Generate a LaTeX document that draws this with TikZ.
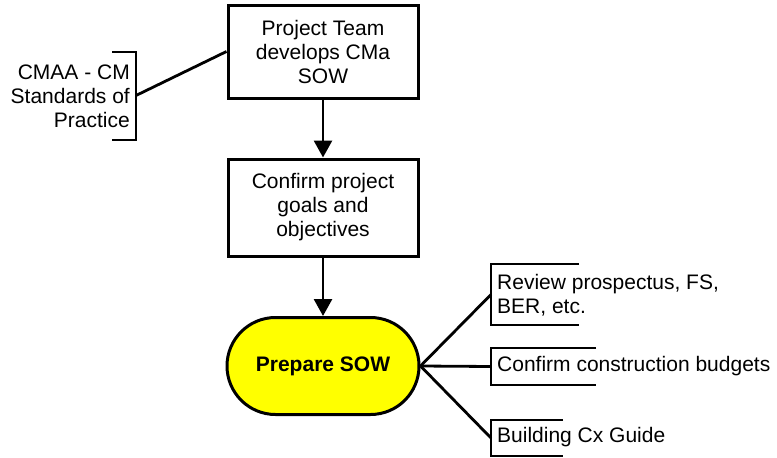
\documentclass[tikz,border=0pt]{standalone}
\usepackage{fontspec}
\setmainfont{Liberation Sans}
\usepackage{xcolor}
\usetikzlibrary{arrows.meta,shapes.misc}
\definecolor{sowyellow}{HTML}{FFFF00}

\begin{document}
\begin{tikzpicture}[x=1pt,y=-1pt,
    every node/.style={font=\fontsize{21}{24}\selectfont},
    procbox/.style={draw,line width=3pt,align=center,inner sep=0pt,
      minimum width=190,minimum height=93},
    termnode/.style={draw,line width=3pt,fill=sowyellow,rounded rectangle,
      inner sep=0pt,minimum width=192,minimum height=97,
      font=\fontsize{21}{24}\selectfont\bfseries},
    note/.style={inner sep=0pt},
    link/.style={line width=2.8pt},
    flow/.style={line width=2.8pt,-{Triangle[length=17pt,width=18pt]}}]
  \useasboundingbox (0,0) rectangle (777,458);

  % main column
  \node[procbox] (team) at (323,51.5) {Project Team\\develops CMa\\SOW};
  \node[procbox,minimum height=97] (goals) at (323,207.5) {Confirm project\\goals and\\objectives};
  \node[termnode] (sow) at (323,366) {Prepare SOW};
  \draw[flow] (team.south) -- (goals.north);
  \draw[flow] (goals.south) -- (sow.north);

  % left annotation
  \node[note,align=right,anchor=east] (cmaa) at (130,96) {CMAA - CM\\Standards of\\Practice};
  \draw[link] (112,52) -- (136,52) -- (136,140) -- (112,140);
  \coordinate (cmaaB) at (136,95.5);
  \draw[link] (cmaaB) -- (team.west);

  % right annotations
  \node[note,align=left,anchor=west] (review) at (497,295) {Review prospectus, FS,\\BER, etc.};
  \node[note,align=left,anchor=west] (budget) at (497,366) {Confirm construction budgets};
  \node[note,align=left,anchor=west] (guide) at (497,437) {Building Cx Guide};
  \draw[link] (579,264) -- (491,264) -- (491,325) -- (579,325);
  \draw[link] (596,348) -- (491,348) -- (491,385) -- (596,385);
  \draw[link] (563,420) -- (491,420) -- (491,456) -- (563,456);
  \coordinate (reviewB) at (491,294.5);
  \coordinate (budgetB) at (491,366.5);
  \coordinate (guideB) at (491,438);
  \foreach \t in {reviewB,budgetB,guideB}
    \draw[link] (sow.east) -- (\t);
\end{tikzpicture}
\end{document}
